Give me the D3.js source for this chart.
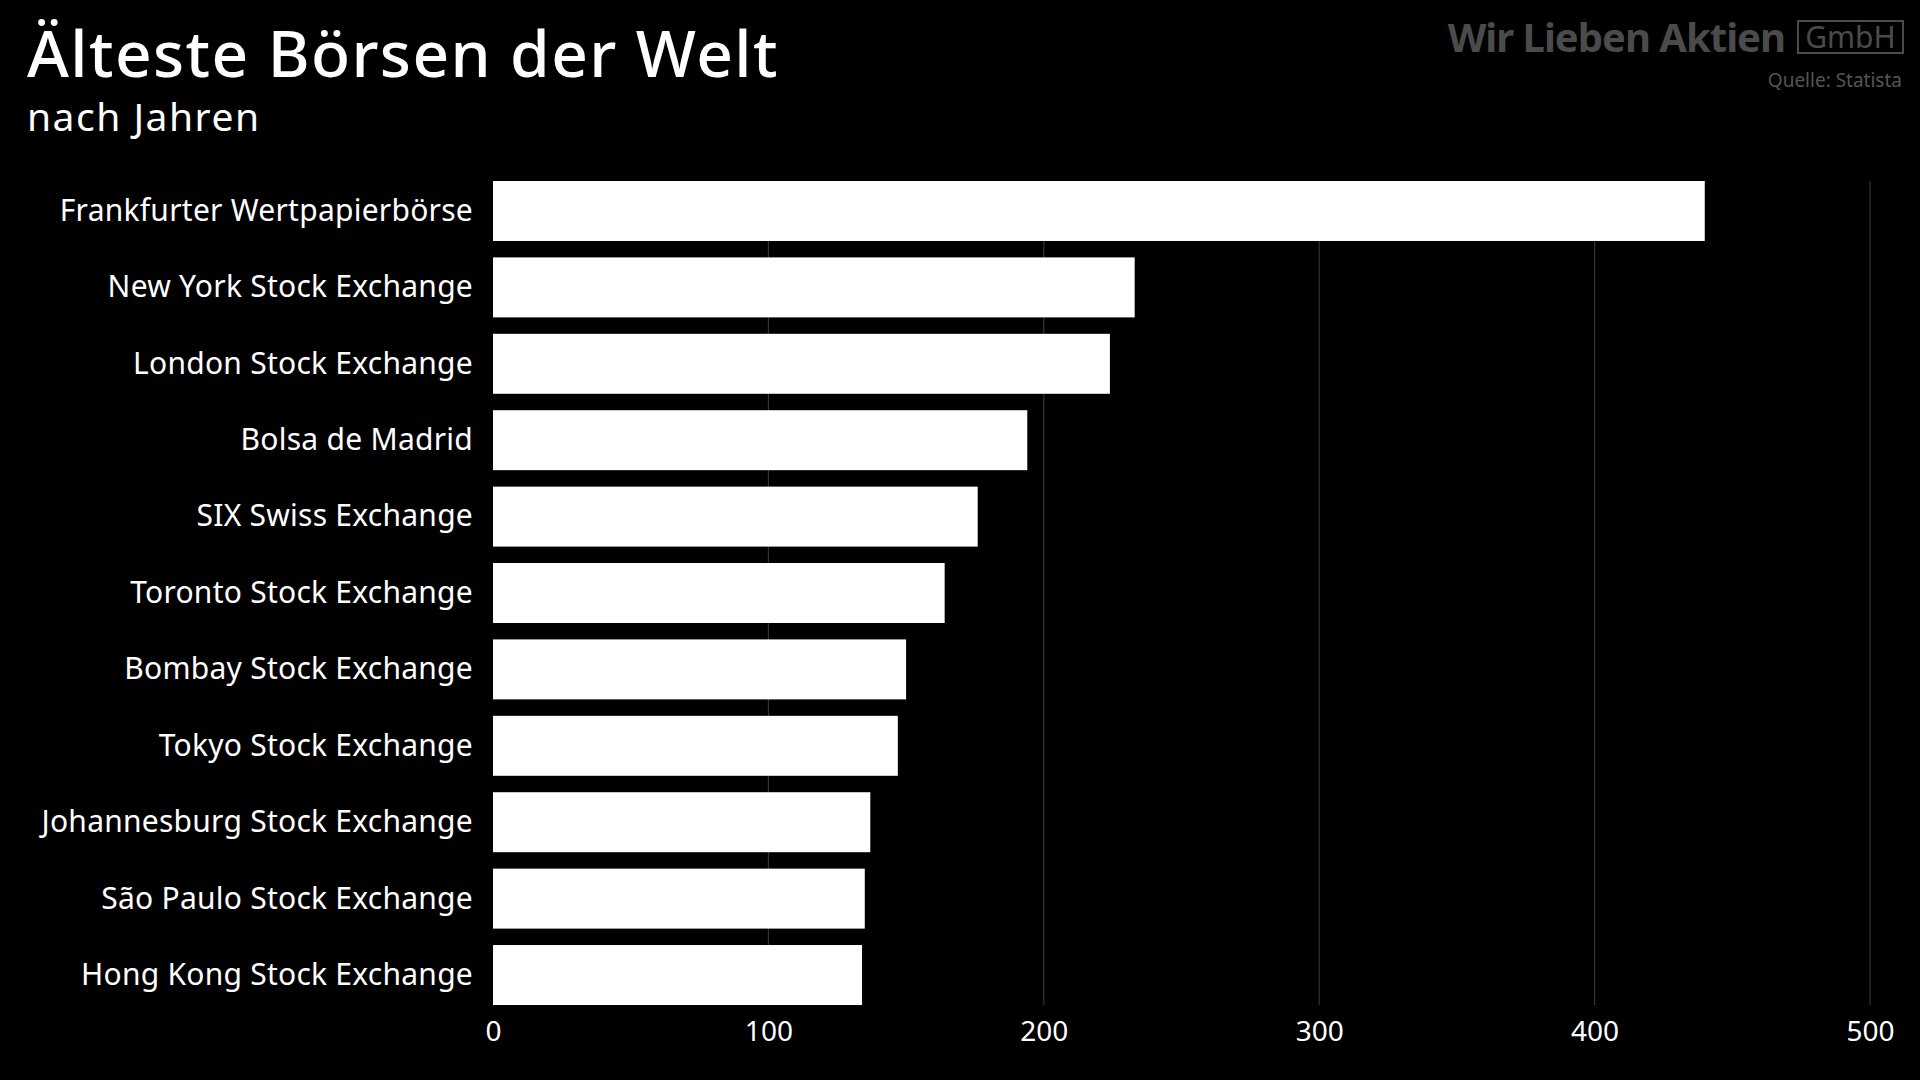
<!DOCTYPE html>
<html>
<head>
<meta charset="utf-8">
<script src="https://cdn.jsdelivr.net/npm/d3@7"></script>
<style>
  html, body { margin: 0; padding: 0; background: #000; }
  svg { display: block; font-family: "Noto Sans", sans-serif; }
</style>
</head>
<body>
<svg></svg>
<script>
const size = {w: 1920, h: 1080};
const margin = {t: 181, r: 50, b: 75, l: 493};

// Börsen und Alter in Jahren
const exchanges = [
    'Frankfurter Wertpapierbörse',
    'New York Stock Exchange',
    'London Stock Exchange',
    'Bolsa de Madrid',
    'SIX Swiss Exchange',
    'Toronto Stock Exchange',
    'Bombay Stock Exchange',
    'Tokyo Stock Exchange',
    'Johannesburg Stock Exchange',
    'São Paulo Stock Exchange',
    'Hong Kong Stock Exchange'
];
const years = [440, 233, 224, 194, 176, 164, 150, 147, 137, 135, 134];
const xTicks = [0, 100, 200, 300, 400, 500];

const data = exchanges.map((name, i) => ({name: name, value: years[i]}));

const svg = d3.select('svg')
    .attr('width', size.w)
    .attr('height', size.h);

const x = d3.scaleLinear()
    .domain([0, 500])
    .range([margin.l, 1870]);

const y = d3.scaleBand()
    .domain(exchanges)
    .range([margin.t, size.h - margin.b])
    .paddingInner(0.215)
    .paddingOuter(0);

// gridlines
svg.append('g')
    .selectAll('line')
    .data(xTicks.slice(1))
    .join('line')
    .attr('x1', d => x(d))
    .attr('x2', d => x(d))
    .attr('y1', margin.t)
    .attr('y2', size.h - margin.b)
    .attr('stroke', '#333')
    .attr('stroke-width', 1.2);

// bars
svg.append('g')
    .selectAll('rect')
    .data(data)
    .join('rect')
    .attr('x', x(0))
    .attr('y', d => y(d.name))
    .attr('width', d => x(d.value) - x(0))
    .attr('height', y.bandwidth())
    .attr('fill', '#fff');

// category labels
svg.append('g')
    .selectAll('text')
    .data(data)
    .join('text')
    .attr('x', 473)
    .attr('y', d => y(d.name) + y.bandwidth() / 2)
    .attr('dy', '0.33em')
    .attr('text-anchor', 'end')
    .attr('fill', '#fff')
    .style('font-size', '30px')
    .style('letter-spacing', '0.25px')
    .text(d => d.name);

// x axis
const xAxis = svg.append('g')
    .attr('transform', `translate(0, ${size.h - margin.b})`)
    .call(d3.axisBottom(x).tickValues(xTicks).tickSize(0).tickPadding(16));
xAxis.select('.domain').remove();
xAxis.selectAll('text')
    .attr('fill', '#fff')
    .style('font-family', '"Noto Sans", sans-serif')
    .style('font-size', '28px');

// title
svg.append('text')
    .attr('x', 27)
    .attr('y', 77)
    .attr('fill', '#fff')
    .style('font-size', '64px')
    .style('font-weight', 500)
    .style('letter-spacing', '1.4px')
    .text('Älteste Börsen der Welt');

svg.append('text')
    .attr('x', 27)
    .attr('y', 131)
    .attr('fill', '#fff')
    .style('font-size', '39px')
    .style('letter-spacing', '1.5px')
    .text('nach Jahren');

// logo
svg.append('text')
    .attr('x', 1785)
    .attr('y', 52)
    .attr('text-anchor', 'end')
    .attr('fill', '#4b4b4b')
    .style('font-size', '40px')
    .style('font-weight', 700)
    .style('letter-spacing', '-1px')
    .text('Wir Lieben Aktien');

svg.append('rect')
    .attr('x', 1798)
    .attr('y', 21)
    .attr('width', 105)
    .attr('height', 32)
    .attr('fill', 'none')
    .attr('stroke', '#4b4b4b')
    .attr('stroke-width', 2);

svg.append('text')
    .attr('x', 1850.5)
    .attr('y', 48)
    .attr('text-anchor', 'middle')
    .attr('fill', '#4b4b4b')
    .style('font-size', '30px')
    .text('GmbH');

svg.append('text')
    .attr('x', 1902)
    .attr('y', 87)
    .attr('text-anchor', 'end')
    .attr('fill', '#555')
    .style('font-size', '19px')
    .text('Quelle: Statista');
</script>
</body>
</html>
